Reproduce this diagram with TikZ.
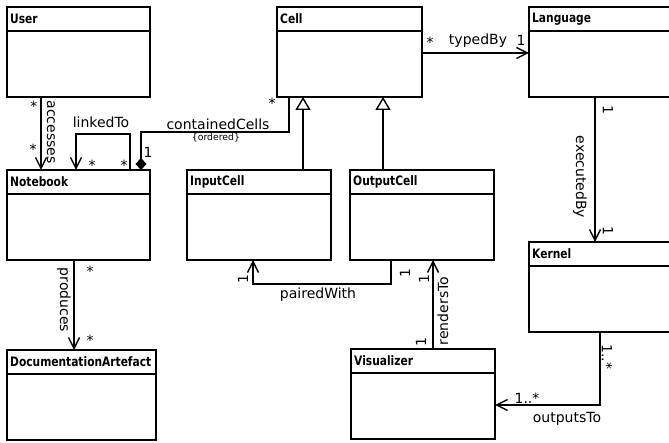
\documentclass[tikz,border=0pt]{standalone}
\usepackage{fontspec}
\setmainfont{DejaVu Sans}
\newfontfamily\titlefont[FakeStretch=0.82]{DejaVu Sans}
\usetikzlibrary{arrows.meta,positioning,calc}

% a class box: name, title, x, y (top left), width
\newcommand{\umlclass}[5]{%
  \node[classbox, minimum width=#5pt, anchor=north west] (#1) at (#3,#4) {};
  \draw[line width=1.4pt] ([yshift=-24pt]#1.north west) -- ([yshift=-24pt]#1.north east);
  \node[classname] at ([xshift=3pt, yshift=-12pt]#1.north west) {#2};
}

\begin{document}
\begin{tikzpicture}[x=1pt, y=-1pt,
    classbox/.style={draw, line width=1.4pt, minimum height=90pt, inner sep=0pt, outer sep=0pt},
    classname/.style={font=\titlefont\fontsize{13}{14}\selectfont\bfseries, anchor=west, inner sep=0pt},
    lbl/.style={font=\fontsize{14}{16}\selectfont, inner sep=0pt},
    note/.style={font=\fontsize{9.3}{10}\selectfont, inner sep=0pt, anchor=base},
    assoc/.style={line width=1.4pt, -{Straight Barb[length=11pt, width=11pt]}},
    gen/.style={line width=1.4pt, -{Triangle[open, length=13pt, width=15pt, fill=white]}},
    comp/.style={line width=1.4pt, {Diamond[length=12pt, width=11pt]}-},
  ]
  \useasboundingbox (0,0) rectangle (669,443);

  % classes
  \umlclass{user}{User}{7}{7}{143}
  \umlclass{notebook}{Notebook}{7}{170}{143}
  \umlclass{docart}{DocumentationArtefact}{7}{350}{149}
  \umlclass{cell}{Cell}{277}{7}{145}
  \umlclass{inputcell}{InputCell}{187}{170}{144}
  \umlclass{outputcell}{OutputCell}{350}{170}{144}
  \umlclass{language}{Language}{529}{7}{146}
  \umlclass{kernel}{Kernel}{529}{242}{146}
  \umlclass{visualizer}{Visualizer}{351}{349}{144}

  % generalizations
  \draw[gen] ([xshift=116pt]inputcell.north west) -- ([xshift=116pt]inputcell.north west |- cell.south);
  \draw[gen] ([xshift=33pt]outputcell.north west) -- ([xshift=33pt]outputcell.north west |- cell.south);

  % accesses
  \draw[assoc] ([xshift=34pt]user.south west) -- ([xshift=34pt]user.south west |- notebook.north);
  \node[lbl, anchor=base] at (34,112) {*};
  \node[lbl, anchor=base] at (33,155) {*};
  \node[lbl, rotate=-90] at (51,132) {accesses};

  % linkedTo
  \draw[assoc] ([xshift=123pt]notebook.north west) -- ++(0,-36) -| ([xshift=69pt]notebook.north west);
  \node[lbl, anchor=base] at (101,128) {linkedTo};
  \node[lbl, anchor=base] at (92,171) {*};
  \node[lbl, anchor=base] at (124,171) {*};

  % containedCells
  \draw[comp] ([xshift=134pt]notebook.north west) -- ++(0,-38) -| ([xshift=12pt]cell.south west);
  \node[lbl, anchor=base] at (218,130) {containedCells};
  \node[note] at (216,141) {\{ordered\}};
  \node[lbl, anchor=base] at (148,158) {1};
  \node[lbl, anchor=base] at (272,109) {*};

  % typedBy
  \draw[assoc] ([yshift=-46pt]cell.north east) -- ([yshift=-46pt]cell.north east -| language.west);
  \node[lbl, anchor=base] at (430,48) {*};
  \node[lbl, anchor=base] at (478,45) {typedBy};
  \node[lbl, anchor=base] at (521,46) {1};

  % executedBy
  \draw[assoc] ([xshift=66pt]language.south west) -- ([xshift=66pt]language.south west |- kernel.north);
  \node[lbl, rotate=-90] at (580,177) {executedBy};
  \node[lbl, rotate=-90] at (608,110) {1};
  \node[lbl, rotate=-90] at (608,231) {1};

  % produces
  \draw[assoc] ([xshift=67pt]notebook.south west) -- ([xshift=67pt]notebook.south west |- docart.north);
  \node[lbl, rotate=-90] at (64,300) {produces};
  \node[lbl, anchor=base] at (90,277) {*};
  \node[lbl, anchor=base] at (90,345) {*};

  % pairedWith
  \draw[assoc] ([xshift=41pt]outputcell.south west) -- ++(0,24) -| ([xshift=66pt]inputcell.south west);
  \node[lbl, anchor=base] at (318,299) {pairedWith};
  \node[lbl, rotate=90] at (243,279) {1};
  \node[lbl, rotate=90] at (405,273) {1};

  % rendersTo
  \draw[assoc] ([xshift=82pt]visualizer.north west) -- ([xshift=82pt]visualizer.north west |- outputcell.south);
  \node[lbl, rotate=90] at (443,311) {rendersTo};
  \node[lbl, rotate=90] at (424,279) {1};
  \node[lbl, rotate=90] at (421,342) {1};

  % outputsTo
  \draw[assoc] ([xshift=71pt]kernel.south west) |- ([yshift=-11pt]visualizer.east);
  \node[lbl, rotate=-90] at (607,357) {1..*};
  \node[lbl, anchor=base] at (527,403) {1..*};
  \node[lbl, anchor=base] at (567,422) {outputsTo};
\end{tikzpicture}
\end{document}
